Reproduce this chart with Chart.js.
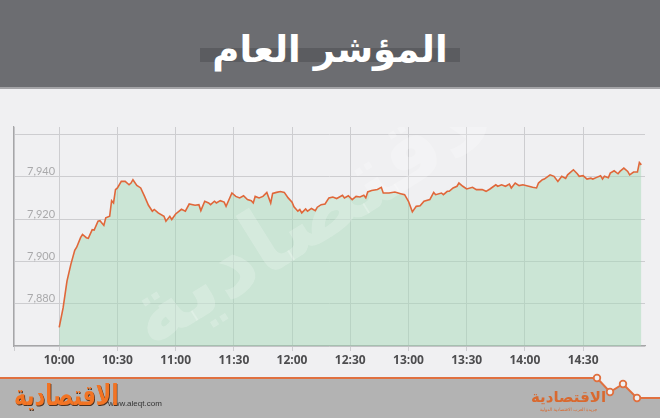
<!DOCTYPE html>
<html>
<head>
<meta charset="utf-8">
<script src="https://cdn.jsdelivr.net/npm/chart.js@4/dist/chart.umd.min.js"></script>
<style>
  html, body { margin: 0; padding: 0; }
  body { width: 660px; height: 418px; background: #f0f0f2; position: relative; overflow: hidden; }
  #chart { position: absolute; left: 0; top: 0; }
  .header { position: absolute; left: 0; top: 0; width: 660px; height: 87px; background: #6c6d71; border-bottom: 2px solid #a4a4a7; }
  .band { position: absolute; left: 200px; top: 48px; width: 260px; height: 14px; background: #5b5c60; }
  .title { position: absolute; left: 0; top: 28px; width: 660px; text-align: center; color: #fff;
           font: bold 37px "DejaVu Sans", sans-serif; direction: rtl; }
  .footer { position: absolute; left: 0; top: 0; }
  .logo { position: absolute; left: 14px; top: 378px; color: #f27424; font: bold 29px "DejaVu Sans", sans-serif;
          direction: rtl; text-shadow: 1px 1px 0 #4a3020; transform: scaleX(0.72); transform-origin: left top; }
  .site { position: absolute; left: 108px; top: 399px; color: #333; font: 8px "Liberation Sans", sans-serif; }
  .logo2 { position: absolute; left: 531px; top: 388px; color: #d9692f; font: bold 15px "DejaVu Sans", sans-serif; direction: rtl; }
  .logo2 small { display: block; font-size: 4.5px; font-weight: normal; text-align: center; margin-top: 1px; }
</style>
</head>
<body>
<canvas id="chart" width="660" height="418"></canvas>
<div class="header"></div>
<div class="band"></div>
<div class="title">المؤشر العام</div>
<svg class="footer" width="660" height="418">
  <polygon points="0,378 597,378 610,392 623,384 637,398 660,398 660,418 0,418" fill="#b3b3b3"/>
  <polyline points="0,378 597,378 610,392 623,384 637,398 660,398" fill="none" stroke="#e0703f" stroke-width="2"/>
  <circle cx="597" cy="378" r="3.3" fill="#f0f0f2" stroke="#e0703f" stroke-width="1.8"/>
  <circle cx="610" cy="392" r="3.3" fill="#f0f0f2" stroke="#e0703f" stroke-width="1.8"/>
  <circle cx="623" cy="384" r="3.3" fill="#f0f0f2" stroke="#e0703f" stroke-width="1.8"/>
  <circle cx="637" cy="398" r="3.3" fill="#f0f0f2" stroke="#e0703f" stroke-width="1.8"/>
</svg>
<div class="site">www.aleqt.com</div>
<div class="logo">الاقتصادية</div>
<div class="logo2">الاقتصادية<small>جريدة العرب الاقتصادية الدولية</small></div>

<script>
// minutes after 10:00 and index level
const minutes = [0, 2, 4, 6, 8, 9, 11, 12, 14, 15, 17, 18, 20, 21, 23, 24, 26, 27, 28, 29,
  30, 32, 34, 36, 37, 38, 40, 42, 44, 46, 48, 49, 51, 54, 55, 57, 58, 60, 63, 65,
  67, 70, 72, 73, 75, 77, 78, 80, 81, 83, 85, 86, 89, 91, 93, 95, 97, 99, 100, 101,
  103, 105, 107, 109, 110, 112, 114, 116, 118, 120, 121, 123, 124, 125, 127, 128, 130, 132, 133, 135,
  137, 139, 141, 143, 146, 147, 149, 151, 153, 155, 157, 158, 159, 161, 164, 166, 167, 170, 173, 176,
  178, 180, 182, 184, 186, 188, 191, 193, 194, 197, 198, 200, 201, 203, 205, 206, 208, 210, 213, 215,
  218, 220, 222, 225, 226, 228, 230, 232, 233, 235, 237, 239, 242, 244, 246, 247, 249, 250, 253, 255,
  257, 259, 261, 262, 263, 265, 267, 268, 270, 272, 274, 275, 277, 279, 280, 281, 283, 284, 286, 288,
  289, 291, 293, 294, 296, 298, 299, 300];

const indexValues = [7868.8, 7878, 7890.7, 7898.6, 7905.2, 7906.7, 7911.2, 7912.7, 7911.2, 7910.9,
  7915, 7914.8, 7919, 7919.2, 7917, 7920.6, 7921.3, 7928.7, 7927.6, 7933.9,
  7934.7, 7937.8, 7937.8, 7936.2, 7937, 7938.6, 7935.9, 7934.7, 7930.7, 7926.5,
  7923.7, 7924.5, 7922.9, 7921.3, 7919, 7921.3, 7919.8, 7922.4, 7924.6, 7923.7,
  7927.1, 7926.5, 7926.8, 7924, 7928.4, 7927.6, 7926.8, 7928.4, 7927.6, 7928.7,
  7928, 7926, 7932.3, 7930.7, 7930, 7931, 7929.2, 7928.7, 7927.6, 7930.7,
  7930, 7930.7, 7932.6, 7927.6, 7932.1, 7932.6, 7933, 7932.6, 7930, 7928,
  7925.8, 7923.7, 7924.5, 7922.9, 7924.8, 7923.7, 7925, 7924, 7925.6, 7926.8,
  7927.1, 7930, 7930.4, 7929.7, 7931.2, 7930, 7931, 7929.2, 7930.7, 7930.4,
  7931.2, 7930, 7932.8, 7933.5, 7934, 7935, 7932.3, 7932.3, 7932.8, 7932,
  7931.5, 7928.4, 7923.4, 7926, 7926.3, 7928.4, 7929.2, 7932.6, 7931.5, 7932.3,
  7931.5, 7933.1, 7933.1, 7934.7, 7935.5, 7937, 7935.5, 7934.2, 7935, 7933.9,
  7933.9, 7933.1, 7934.2, 7936.2, 7935.5, 7936.2, 7935.5, 7936.5, 7934.7, 7937,
  7935.8, 7936.2, 7935.5, 7935, 7934.7, 7937, 7938.6, 7938.9, 7940.9, 7940.2,
  7937.8, 7940.2, 7939.2, 7940.9, 7941.7, 7943.3, 7941.4, 7940.2, 7940.5, 7938.9,
  7939.3, 7938.9, 7939.7, 7940.5, 7938.9, 7940.2, 7939.5, 7941.7, 7942.8, 7941.4,
  7942.5, 7944.1, 7942.5, 7940.9, 7942.2, 7942.2, 7946.7, 7945.6];

const xTickMinutes = [0, 30, 60, 90, 120, 150, 180, 210, 240, 270];
const xTickLabels = ['10:00', '10:30', '11:00', '11:30', '12:00', '12:30', '13:00', '13:30', '14:00', '14:30'];
const yTicks = [7860, 7880, 7900, 7920, 7940, 7960];
const yTickLabels = ['', '7,880', '7,900', '7,920', '7,940', ''];

const X_MIN = -23.3;
const X_MAX = 301.9;

const points = minutes.map((m, i) => ({ x: m, y: indexValues[i] }));

// faint newspaper watermark, drawn over the fill but under the line
const watermark = {
  id: 'watermark',
  beforeDatasetDraw(chart) {
    const ctx = chart.ctx;
    const area = chart.chartArea;
    ctx.save();
    ctx.beginPath();
    ctx.rect(area.left, area.top, area.right - area.left, area.bottom - area.top);
    ctx.clip();
    ctx.translate(330, 210);
    ctx.rotate(-32 * Math.PI / 180);
    ctx.font = 'bold 90px "DejaVu Sans"';
    ctx.textAlign = 'center';
    ctx.textBaseline = 'middle';
    ctx.fillStyle = 'rgba(255,255,255,0.22)';
    ctx.fillText('الاقتصادية', 0, 0);
    ctx.restore();
  }
};

new Chart(document.getElementById('chart'), {
  type: 'line',
  data: {
    datasets: [{
      data: points,
      borderColor: '#e0673a',
      borderWidth: 1.6,
      backgroundColor: 'rgba(166,218,184,0.5)',
      fill: 'start',
      pointRadius: 0,
      tension: 0
    }]
  },
  options: {
    responsive: false,
    animation: false,
    events: [],
    layout: { padding: { left: -12, right: 15, top: 127, bottom: 47.6 } },
    plugins: { legend: { display: false }, tooltip: { enabled: false } },
    scales: {
      x: {
        type: 'linear',
        min: X_MIN,
        max: X_MAX,
        afterBuildTicks: scale => {
          scale.ticks = [{ value: X_MIN }].concat(xTickMinutes.map(v => ({ value: v })));
        },
        grid: { color: '#cdcdd0', lineWidth: 1, tickLength: 5, drawTicks: true },
        border: { color: '#a6a6a8', width: 1.2 },
        ticks: {
          padding: 2.5,
          color: '#4d4d4f',
          font: { family: '"Open Sans"', size: 12, weight: 'bold' },
          maxRotation: 0,
          autoSkip: false,
          callback: value => {
            const i = xTickMinutes.indexOf(value);
            return i >= 0 ? xTickLabels[i] : '';
          }
        }
      },
      y: {
        min: 7860,
        max: 7963.5,
        afterBuildTicks: scale => {
          scale.ticks = yTicks.map(v => ({ value: v }));
        },
        grid: { color: '#cdcdd0', lineWidth: 1, drawTicks: false },
        border: { color: '#a6a6a8', width: 1.2 },
        ticks: {
          mirror: true,
          padding: 13,
          labelOffset: -5,
          color: '#a9a9ab',
          font: { family: 'Lato', size: 11 },
          callback: value => yTickLabels[yTicks.indexOf(value)]
        }
      }
    }
  },
  plugins: [watermark]
});
</script>
</body>
</html>
